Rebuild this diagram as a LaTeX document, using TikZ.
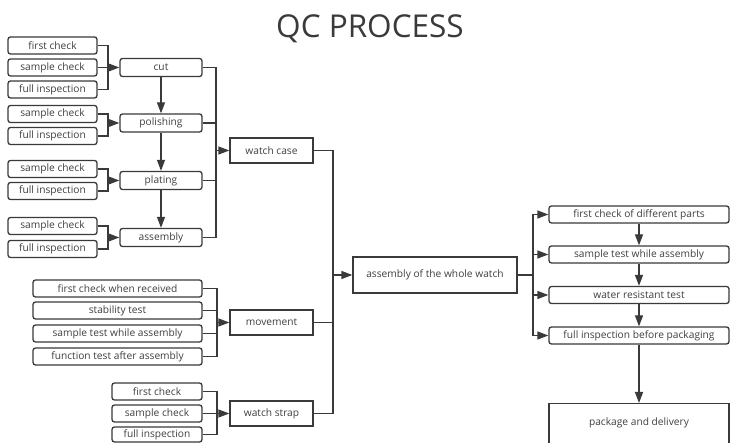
\documentclass[tikz,border=0pt]{standalone}
\usepackage{fontspec}
\setmainfont{Open Sans}
\usetikzlibrary{arrows.meta}
\definecolor{ln}{HTML}{3A3A3A}
\definecolor{tx}{HTML}{404040}
\tikzset{
  box/.style={draw=ln, line width=1.3pt, fill=white, text=tx, font=\fontsize{10.2}{12}\selectfont, inner sep=0pt, minimum height=17pt},
  rbox/.style={box, rounded corners=2.5pt},
  mbox/.style={box, minimum height=25pt},
  conn/.style={draw=ln, line width=1.3pt},
  arr/.style={conn, -{Triangle[length=11pt,width=8pt]}}
}
\begin{document}
\begin{tikzpicture}[x=1pt,y=-1pt]
\useasboundingbox (0,0) rectangle (750,443);
\fill[white] (0,0) rectangle (750,443);
\node[text=ln, font=\fontsize{31.5}{36}\selectfont] (title) at (370,29) {QC PROCESS};

% cut group
\node[rbox, minimum width=89pt] (c1) at (52.5,45.5) {first check};
\node[rbox, minimum width=89pt] (c2) at (52.5,67.5) {sample check};
\node[rbox, minimum width=89pt] (c3) at (52.5,89.5) {full inspection};
\node[rbox, minimum width=82pt, minimum height=18pt] (cut) at (161,67.5) {cut};
% polishing group
\node[rbox, minimum width=89pt] (p1) at (52.5,114) {sample check};
\node[rbox, minimum width=89pt] (p2) at (52.5,136) {full inspection};
\node[rbox, minimum width=82pt, minimum height=18pt] (pol) at (161,123) {polishing};
% plating group
\node[rbox, minimum width=89pt] (l1) at (52.5,169) {sample check};
\node[rbox, minimum width=89pt] (l2) at (52.5,191) {full inspection};
\node[rbox, minimum width=82pt, minimum height=18pt] (pla) at (161,180.5) {plating};
% assembly group
\node[rbox, minimum width=89pt] (a1) at (52.5,226) {sample check};
\node[rbox, minimum width=89pt] (a2) at (52.5,249) {full inspection};
\node[rbox, minimum width=82pt, minimum height=18pt] (asm) at (161,237.5) {assembly};

\node[mbox, minimum width=83pt] (case) at (271.5,150.5) {watch case};

% movement group
\node[rbox, minimum width=169pt] (m1) at (117.5,288.5) {first check when received};
\node[rbox, minimum width=169pt] (m2) at (117.5,310.5) {stability test};
\node[rbox, minimum width=169pt] (m3) at (117.5,333.5) {sample test while assembly};
\node[rbox, minimum width=169pt] (m4) at (117.5,356.5) {function test after assembly};
\node[mbox, minimum width=83pt] (mov) at (271.5,322.5) {movement};

% strap group
\node[rbox, minimum width=90pt] (s1) at (157,391.5) {first check};
\node[rbox, minimum width=90pt] (s2) at (157,413.5) {sample check};
\node[rbox, minimum width=90pt, minimum height=15pt] (s3) at (157,434.5) {full inspection};
\node[mbox, minimum width=83pt] (strap) at (271.5,413.5) {watch strap};

% whole
\node[box, minimum width=164pt, minimum height=36pt] (whole) at (435,275) {assembly of the whole watch};

% right column
\node[rbox, minimum width=180pt] (r1) at (639,214.5) {first check of different parts};
\node[rbox, minimum width=180pt] (r2) at (639,254.5) {sample test while assembly};
\node[rbox, minimum width=180pt] (r3) at (639,295) {water resistant test};
\node[rbox, minimum width=180pt] (r4) at (639,335.5) {full inspection before packaging};
\node[box, minimum width=180pt, minimum height=50pt, anchor=north] (pkg) at (639,403) {};
\node[text=tx, font=\fontsize{10.2}{12}\selectfont] (pkgt) at (639,423) {package and delivery};

% buses
\coordinate (bc) at (108,67.5);
\coordinate (bp) at (108,123);
\coordinate (bl) at (108,180.5);
\coordinate (ba) at (108,237.5);
\coordinate (bw) at (216,150.5);
\coordinate (bm) at (217,322.5);
\coordinate (bs) at (217,413.5);
\coordinate (bx) at (333,275);
\coordinate (br) at (533,275);

\path[conn] (c1.east) -| (bc) (c3.east) -| (bc) (c2.east) -- (bc);
\path[arr] (bc) -- (cut.west);
\path[conn] (p1.east) -| (bp) (p2.east) -| (bp);
\path[arr] (bp) -- (pol.west);
\path[conn] (l1.east) -| (bl) (l2.east) -| (bl);
\path[arr] (bl) -- (pla.west);
\path[conn] (a1.east) -| (ba) (a2.east) -| (ba);
\path[arr] (ba) -- (asm.west);

\path[arr] (cut.south) -- (pol.north);
\path[arr] (pol.south) -- (pla.north);
\path[arr] (pla.south) -- (asm.north);

\path[conn] (cut.east) -| (bw) (pol.east) -| (bw) (pla.east) -| (bw) (asm.east) -| (bw);
\path[arr] (bw) -- (case.west);

\path[conn] (m1.east) -| (bm) (m2.east) -| (bm) (m3.east) -| (bm) (m4.east) -| (bm);
\path[arr] (bm) -- (mov.west);

\path[conn] (s1.east) -| (bs) (s3.east) -| (bs) (s2.east) -- (bs);
\path[arr] (bs) -- (strap.west);

\path[conn] (case.east) -| (bx) (mov.east) -| (bx) (strap.east) -| (bx);
\path[arr] (bx) -- (whole.west);

\path[conn] (whole.east) -- (br);
\path[arr] (br) |- (r1.west);
\path[arr] (br) |- (r2.west);
\path[arr] (br) |- (r3.west);
\path[arr] (br) |- (r4.west);

\path[arr] (r1.south) -- (r2.north);
\path[arr] (r2.south) -- (r3.north);
\path[arr] (r3.south) -- (r4.north);
\path[arr] (r4.south) -- (pkg.north);
\end{tikzpicture}
\end{document}
